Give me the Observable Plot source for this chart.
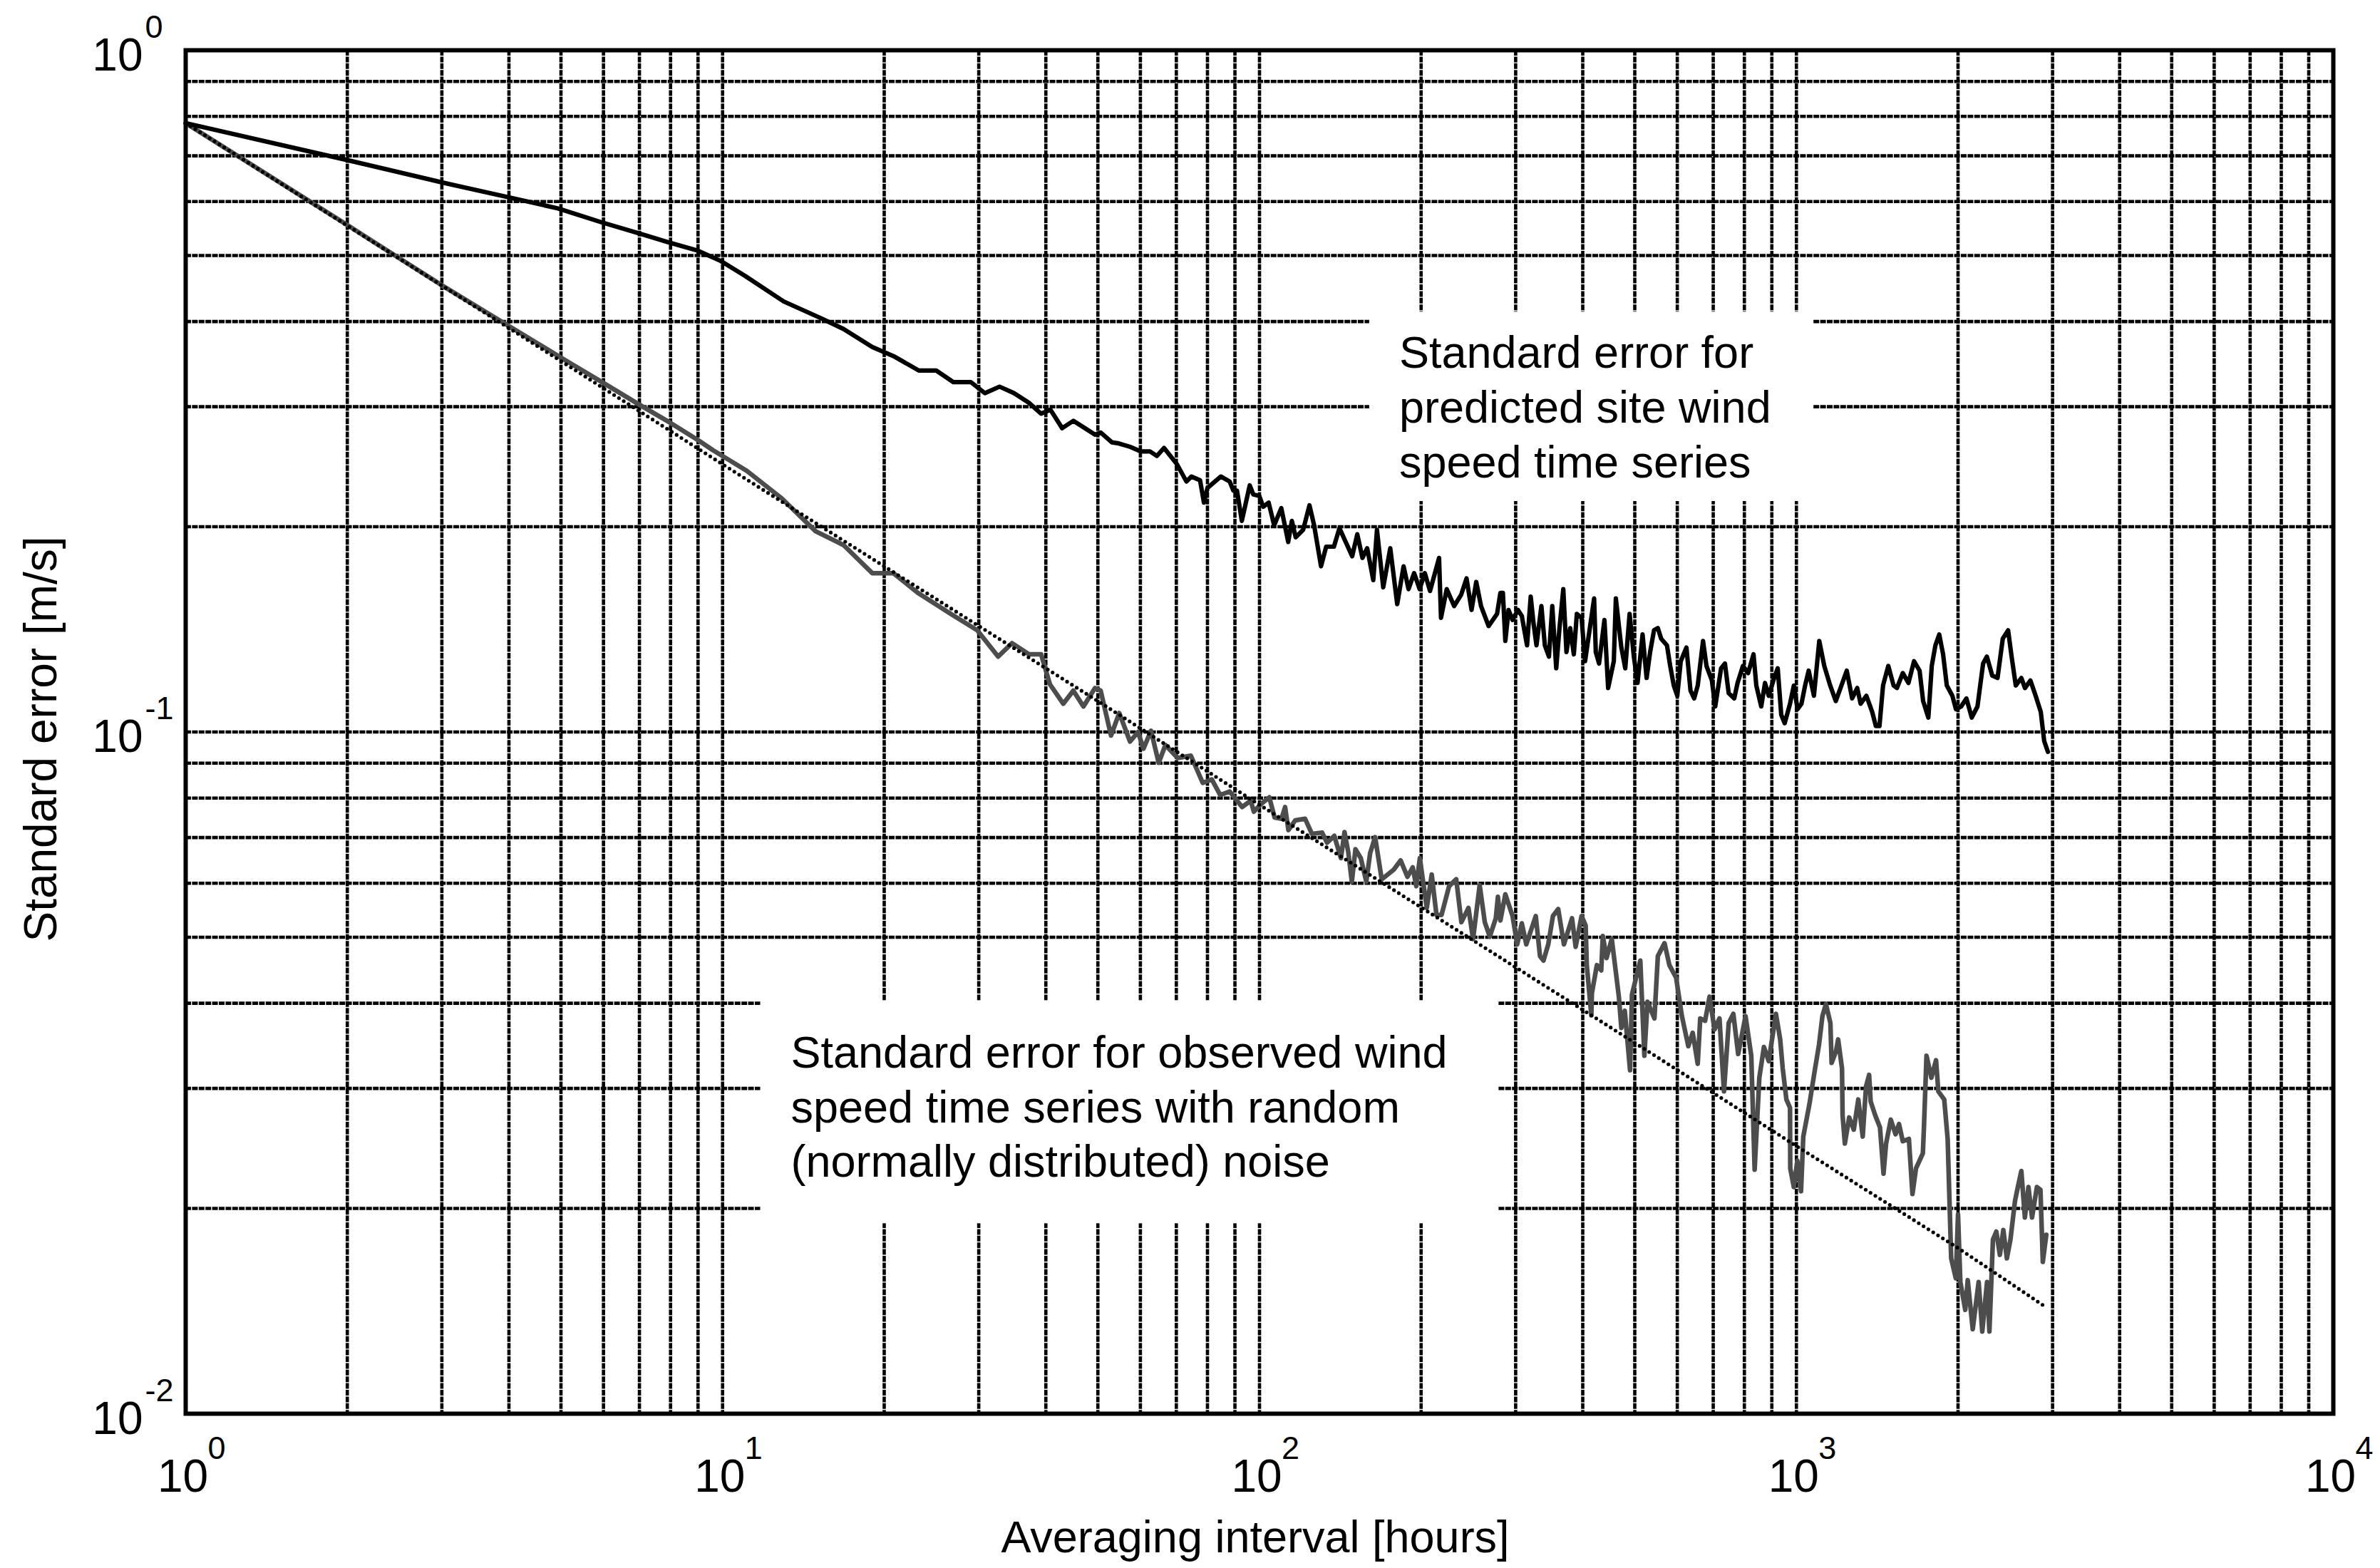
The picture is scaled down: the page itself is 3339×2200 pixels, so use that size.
<!DOCTYPE html>
<html>
<head>
<meta charset="utf-8">
<script src="https://cdn.jsdelivr.net/npm/d3@7"></script>
<script src="https://cdn.jsdelivr.net/npm/@observablehq/plot@0.6"></script>
<style>
  html, body { margin: 0; padding: 0; background: #fff; overflow: hidden; }
  #chart svg { display: block; }
</style>
</head>
<body>
<div id="chart"></div>
<script>
// ---------- data ----------
// Standard error for predicted site wind speed time series (black)
const predHours = [1,2,3,4.29,4.94,5.92,7.03,7.91,9,9.91,11,13,15.2,16.8,19,20.8,23.2,25,26.9,29,30.8,32.8,34.9,37.2,39.2,40.8,42.9,45,49.4,50.6,53.1,54.7,57.4,60.1,62.5,64.4,66.4,70.2,73.1,74.7,77.5,78.8,80,84.7,88,89.4,90.8,92.7,95.9,97.4,99.9,101.6,104,106.5,109.8,113.1,114.9,116.8,120.6,123.9,126.4,130.2,133.1,137.6,140.9,144.3,148.8,152.1,155.5,158.7,162.9,165.5,170,175.2,180.5,185.5,189.5,194.1,198.7,203.2,207.8,216,217.8,223.2,230.4,237.5,243,248.3,253.3,258.6,267.1,277,281,284,287,291,296,303,308,315,320,324,328,335,340,346,351,357,362,368,373,379,385,390,398,404,420,423,429,439,446,457,461,472,480,489,498,506,517,526,534,543,552,560,574,582,591,600,609,624,635,645,655,670,680,696,706,724,736,748,766,777,795,813,832,842,860,874,888,909,923,937,951,973,989,1005,1022,1038,1054,1078,1103,1127,1156,1184,1213,1241,1270,1298,1317,1350,1384,1406,1428,1450,1483,1517,1539,1578,1617,1656,1696,1722,1761,1787,1815,1845,1876,1906,1952,1982,2027,2073,2121,2174,2227,2263,2316,2369,2423,2479,2520,2562,2624,2665,2728,2790,2852,2894,2941];
const predErr = [0.782,0.690,0.640,0.601,0.586,0.560,0.538,0.523,0.508,0.491,0.467,0.428,0.405,0.390,0.367,0.356,0.339,0.339,0.326,0.326,0.314,0.321,0.314,0.304,0.293,0.297,0.279,0.286,0.273,0.275,0.266,0.265,0.262,0.258,0.258,0.254,0.261,0.247,0.233,0.237,0.234,0.217,0.228,0.237,0.233,0.226,0.226,0.204,0.230,0.223,0.222,0.214,0.217,0.201,0.213,0.190,0.204,0.193,0.198,0.215,0.201,0.175,0.187,0.187,0.199,0.191,0.181,0.195,0.180,0.186,0.167,0.198,0.163,0.186,0.154,0.175,0.162,0.171,0.162,0.171,0.161,0.180,0.147,0.162,0.153,0.159,0.168,0.151,0.166,0.153,0.143,0.149,0.160,0.160,0.136,0.151,0.146,0.151,0.148,0.134,0.158,0.144,0.134,0.153,0.134,0.129,0.153,0.124,0.142,0.162,0.131,0.142,0.130,0.149,0.147,0.127,0.157,0.131,0.126,0.146,0.116,0.127,0.157,0.133,0.124,0.149,0.129,0.118,0.139,0.120,0.131,0.141,0.142,0.137,0.134,0.125,0.117,0.113,0.127,0.133,0.115,0.112,0.117,0.136,0.125,0.119,0.109,0.124,0.126,0.114,0.112,0.118,0.125,0.122,0.130,0.117,0.109,0.118,0.113,0.120,0.124,0.106,0.103,0.110,0.117,0.108,0.110,0.117,0.123,0.113,0.136,0.125,0.117,0.111,0.117,0.123,0.112,0.116,0.110,0.113,0.107,0.102,0.102,0.117,0.125,0.117,0.116,0.122,0.118,0.127,0.123,0.111,0.105,0.125,0.134,0.139,0.130,0.117,0.113,0.108,0.109,0.112,0.105,0.109,0.126,0.129,0.121,0.120,0.137,0.141,0.128,0.117,0.120,0.116,0.119,0.113,0.107,0.097,0.0935];

// Standard error for observed wind speed time series with random noise (grey)
const obsHours = [1,2,3,4,5,6,7,8,9,9.6,11.1,12.9,14.9,16.8,19,20.8,23.1,26.6,29.8,32.6,34.6,37.2,39.2,40.7,43.1,45,47,49.4,50.6,52.9,54.8,57.4,59.4,60.8,62.8,64.9,66.8,70.4,74.5,78.4,81.5,84.5,88,92.8,96.3,97.6,100.7,104.3,106.7,109.9,111.6,113.2,116.6,121.6,125.2,130.8,133.6,137.8,141.8,144,146.3,148.6,150.9,154.4,158.1,160.7,164.2,168.9,177.8,183.2,188.6,192.9,195.9,198.9,204.9,209.3,213.6,218.3,225.5,232.5,237.7,245,249.9,257.1,262.8,268.5,275.5,278,281,287,296,302,308,314,327,333,338,345,352,360,369,382,388,398,405,407,415,416,425,433,436,443,453,467,472,479,490,494,512,521,528,544,552,568,580,597,612,629,641,655,662,676,689,704,719,733,748,763,779,804,824,836,853,870,888,916,932.8,943,958,973,974,989,1004,1020,1030,1057,1080,1102,1118,1135,1157,1163,1185,1196,1216,1219,1231,1254,1279,1304,1329,1348,1366,1375,1402,1431,1453,1469,1499,1530,1553,1578,1620,1645,1670,1720,1728,1747,1784,1820,1838,1885,1913,1942,1981,2000,2020,2063,2085,2130,2185,2219,2265,2288,2323,2357,2393,2429,2466,2504,2553,2585,2624,2664,2705,2747,2805,2848,2877,2920];
const obsErr = [0.782,0.554,0.452,0.394,0.354,0.325,0.302,0.284,0.268,0.259,0.2415,0.220,0.197,0.188,0.171,0.171,0.160,0.149,0.141,0.129,0.135,0.130,0.130,0.1175,0.110,0.115,0.109,0.116,0.115,0.0988,0.1066,0.0968,0.100,0.0945,0.1004,0.0901,0.0957,0.0916,0.0923,0.0842,0.0852,0.0808,0.0818,0.0776,0.0793,0.0764,0.0784,0.0802,0.0749,0.0746,0.0776,0.0718,0.0742,0.0746,0.0709,0.0712,0.0688,0.0704,0.0653,0.0713,0.0667,0.0603,0.0673,0.0653,0.0603,0.0664,0.0701,0.0608,0.0628,0.0648,0.0613,0.0633,0.0594,0.0653,0.0552,0.0618,0.0539,0.0539,0.0594,0.0608,0.0526,0.0552,0.0497,0.0596,0.0526,0.0501,0.0533,0.0573,0.0529,0.0578,0.0537,0.0488,0.0524,0.0488,0.0537,0.0469,0.0462,0.0488,0.0537,0.0550,0.0488,0.0533,0.0484,0.0537,0.0520,0.0455,0.0384,0.0414,0.0455,0.0447,0.0502,0.0466,0.0497,0.0409,0.0368,0.0390,0.0319,0.0412,0.0462,0.0335,0.0402,0.0380,0.0469,0.0490,0.0455,0.0436,0.0383,0.0346,0.0362,0.0326,0.0380,0.0377,0.0409,0.0366,0.0380,0.0297,0.0374,0.0386,0.0337,0.0383,0.0335,0.0228,0.0311,0.0345,0.0329,0.0386,0.0354,0.0321,0.0289,0.0281,0.0229,0.0215,0.0235,0.0212,0.0255,0.0284,0.0316,0.0348,0.0383,0.0399,0.0374,0.0327,0.0340,0.0354,0.0321,0.0274,0.0249,0.0272,0.0261,0.0289,0.0255,0.0302,0.0314,0.0287,0.0274,0.0263,0.0225,0.0249,0.0270,0.0257,0.0266,0.0251,0.0253,0.0210,0.0229,0.0241,0.0263,0.0335,0.0311,0.0330,0.0297,0.0289,0.0253,0.0169,0.0158,0.0196,0.0156,0.0142,0.0157,0.0133,0.0156,0.0132,0.0156,0.0132,0.0180,0.0185,0.0171,0.0186,0.0169,0.0180,0.0205,0.0215,0.0227,0.0194,0.0215,0.0194,0.0215,0.0213,0.0167,0.0183];

// Reference (dotted) line, read along its length
const refHours = [1,2,5,10,20,50,100,200,500,1000,2000,2890];
const refErr = [0.782,0.553,0.350,0.247,0.175,0.111,0.0782,0.0553,0.0350,0.0247,0.0175,0.0144];

// Annotations
const annotText = [
  "Standard error for\npredicted site wind\nspeed time series",
  "Standard error for observed wind\nspeed time series with random\n(normally distributed) noise"
];
const annotHours = [182, 13.4];
const annotErr = [0.3015, 0.0284];

// Tick labels
const xDecades = [1, 10, 100, 1000, 10000];
const xExp = ["0", "1", "2", "3", "4"];
const yDecades = [0.01, 0.1, 1];
const yExp = ["-2", "-1", "0"];
const xTitle = "Averaging interval [hours]";
const yTitle = "Standard error [m/s]";

// ---------- derived grid values (1..9 per decade) ----------
const xGrid = xDecades.slice(0, -1).flatMap(d => d3.range(1, 10).map(k => k * d));
const yGrid = yDecades.slice(0, -1).flatMap(d => d3.range(1, 10).map(k => +(k * d).toPrecision(6)));

// ---------- styles ----------
const gridStyle = {stroke: "black", strokeWidth: 4.6, strokeDasharray: "8,1.4"};
const boxPad = [{l: 42, r: 59, t: 22, b: 20}, {l: 43, r: 71, t: 37, b: 52}];

const chart = Plot.plot({
  width: 3339,
  height: 2200,
  marginLeft: 260,
  marginRight: 66,
  marginTop: 70,
  marginBottom: 217,
  style: {fontFamily: "'Liberation Sans', Arial, sans-serif", fontSize: "62px", background: "white", overflow: "visible"},
  x: {type: "log", domain: [1, 10000], axis: null},
  y: {type: "log", domain: [0.01, 1], axis: null},
  marks: [
    Plot.ruleX(xGrid, {x: d => d, ...gridStyle}),
    Plot.ruleY(yGrid, {y: d => d, ...gridStyle}),
    Plot.text(annotText, {
      x: annotHours, y: annotErr, text: d => d,
      textAnchor: "start", lineAnchor: "middle", lineHeight: 1.22,
      fontSize: 63, fill: "black"
    }),
    Plot.line(obsHours, {x: obsHours, y: obsErr, stroke: "#4d4d4d", strokeWidth: 6.5}),
    Plot.line(refHours, {x: refHours, y: refErr, stroke: "black", strokeWidth: 5.2, strokeDasharray: "0,8", strokeLinecap: "round"}),
    Plot.line(predHours, {x: predHours, y: predErr, stroke: "black", strokeWidth: 6.2}),
    Plot.frame({stroke: "black", strokeWidth: 6}),
    // x tick labels 10^n
    Plot.text(xDecades, {x: xDecades, text: () => "10", frameAnchor: "bottom", lineAnchor: "bottom", textAnchor: "middle", dx: -4, dy: 109, fontSize: 64}),
    Plot.text(xDecades, {x: xDecades, text: xExp, frameAnchor: "bottom", lineAnchor: "bottom", textAnchor: "start", dx: 31, dy: 63, fontSize: 45}),
    // y tick labels 10^n
    Plot.text(yDecades, {y: yDecades, text: () => "10", frameAnchor: "left", lineAnchor: "bottom", textAnchor: "end", dx: -60, dy: 28, fontSize: 64}),
    Plot.text(yDecades, {y: yDecades, text: yExp, frameAnchor: "left", lineAnchor: "bottom", textAnchor: "start", dx: -57, dy: -18, fontSize: 45}),
    // axis titles
    Plot.text([xTitle], {text: d => d, frameAnchor: "bottom", lineAnchor: "bottom", textAnchor: "middle", dx: -6, dy: 194, fontSize: 63}),
    Plot.text([yTitle], {text: d => d, frameAnchor: "left", rotate: -90, lineAnchor: "bottom", textAnchor: "middle", dx: -182, dy: 10, fontSize: 64})
  ]
});

document.getElementById("chart").append(chart);

// white backgrounds behind annotation texts (they cover the grid)
const SVGNS = "http://www.w3.org/2000/svg";
const flat = s => s.replace(/\s+/g, "");
Array.from(chart.querySelectorAll("text")).forEach(t => {
  const i = annotText.findIndex(a => flat(a) === flat(t.textContent));
  if (i < 0) return;
  const b = t.getBBox();
  const p = boxPad[i];
  const r = document.createElementNS(SVGNS, "rect");
  r.setAttribute("x", b.x - p.l);
  r.setAttribute("y", b.y - p.t);
  r.setAttribute("width", b.width + p.l + p.r);
  r.setAttribute("height", b.height + p.t + p.b);
  r.setAttribute("fill", "white");
  r.setAttribute("stroke", "none");
  const tr = t.getAttribute("transform");
  if (tr) r.setAttribute("transform", tr);
  t.parentNode.insertBefore(r, t);
});
</script>
</body>
</html>
